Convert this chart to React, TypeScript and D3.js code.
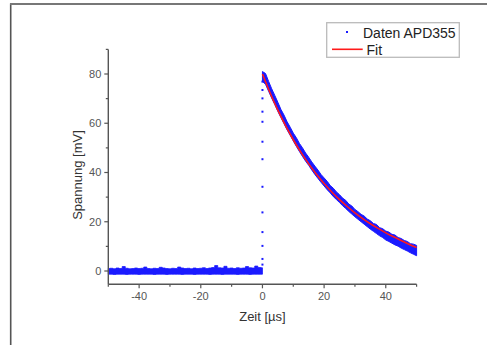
import React from "react";
import * as d3 from "d3";

// ---- data ----
const baseTime = d3.range(-50, 1, 1); // tick positions helper (sample grid)
const baseHigh = [1.0, 1.1, 0.9, 1.2, 1.0, 1.8, 1.1, 0.9, 1.0, 1.2, 1.0, 1.1, 1.6, 1.0, 0.9, 1.1, 1.0, 1.5, 1.2, 1.0, 0.9, 1.1, 1.0, 1.6, 1.2, 1.0, 1.1, 0.9, 1.2, 1.0, 1.1, 1.3, 1.0, 1.2, 1.4, 2.2, 1.3, 1.2, 1.9, 1.1, 1.2, 1.0, 1.3, 1.1, 1.2, 1.8, 1.3, 1.2, 2.0, 1.4, 1.3];
const baseLow = [-1.3, -1.3, -1.4, -1.3, -1.3, -1.3, -1.4, -1.3, -1.3, -1.3, -1.4, -1.3, -1.3, -1.3, -1.3, -1.4, -1.3, -1.3, -1.3, -1.4, -1.3, -1.3, -1.3, -1.3, -1.4, -1.3, -1.3, -1.3, -1.4, -1.3, -1.3, -1.3, -1.3, -1.4, -1.3, -1.3, -1.3, -1.4, -1.3, -1.3, -1.3, -1.3, -1.4, -1.3, -1.3, -1.3, -1.4, -1.3, -1.3, -1.3, -1.3];

const decayTime = d3.range(0, 51, 1);
const decayHigh = [81.0, 80.2, 77.0, 74.0, 71.3, 68.5, 65.6, 63.3, 60.6, 58.4, 56.0, 54.1, 51.8, 50.0, 47.9, 46.2, 44.3, 42.6, 41.0, 39.2, 37.8, 36.4, 34.7, 33.6, 32.1, 31.0, 29.6, 28.7, 27.2, 26.4, 25.0, 24.1, 23.0, 22.3, 21.1, 20.4, 19.3, 18.9, 17.6, 17.2, 16.2, 15.8, 14.9, 14.6, 13.6, 13.2, 12.4, 12.0, 11.1, 10.9, 10.4];
const decayLow = [77.0, 75.8, 73.0, 70.2, 67.6, 64.8, 62.3, 59.8, 57.3, 55.1, 52.8, 50.6, 48.5, 46.5, 44.6, 42.9, 41.0, 39.2, 37.6, 36.0, 34.5, 33.0, 31.7, 30.2, 29.0, 27.8, 26.5, 25.4, 24.2, 23.1, 22.0, 21.0, 20.0, 19.0, 18.0, 17.0, 16.1, 15.2, 14.3, 13.6, 12.6, 12.0, 11.3, 10.6, 10.1, 9.3, 8.7, 8.1, 7.4, 6.8, 6.2];

const spikeValues = [2.6, 4.9, 10.2, 15.8, 23.8, 34.2, 45.4, 52.5, 60.6, 64.7, 70.1, 73.5, 76.9];

const fitTime = [0, 2.5, 5, 7.5, 10, 12.5, 15, 17.5, 20, 22.5, 25, 27.5, 30, 32.5, 35, 37.5, 40, 42.5, 45, 47.5, 50];
const fitValue = [80, 72.3, 65.3, 59.0, 53.3, 48.2, 43.5, 39.3, 35.5, 32.1, 29.0, 26.2, 23.6, 21.3, 19.2, 17.3, 15.5, 13.9, 12.4, 10.9, 9.5];

const xMajor = [-40, -20, 0, 20, 40];
const xMinor = [-50, -30, -10, 10, 30, 50];
const yMajor = [0, 20, 40, 60, 80];
const yMinor = [10, 30, 50, 70, 90];

const W = 487, H = 345;
const BLUE = "#1a1aff";
const RED = "#ff1a1a";
const AXIS = "#555";
const FONT = "Liberation Sans, Arial, sans-serif";

export default function App() {
  const x = d3.scaleLinear().domain([-50, 50]).range([108.3, 416.6]);
  const y = d3.scaleLinear().domain([0, 80]).range([271, 74]);
  const yBottom = 284.3;
  const yTop = y(90);

  const baseArea = d3.area<number>()
    .x((_, i) => x(baseTime[i]))
    .y0((_, i) => y(baseLow[i]))
    .y1((_, i) => y(baseHigh[i]))
    .curve(d3.curveStep);
  const decayArea = d3.area<number>()
    .x((_, i) => x(decayTime[i]))
    .y0((_, i) => y(decayLow[i]))
    .y1((_, i) => y(decayHigh[i]))
    .curve(d3.curveLinear);
  const fitLine = d3.line<number>()
    .x((_, i) => x(fitTime[i]))
    .y((v) => y(v))
    .curve(d3.curveMonotoneX);

  return (
    <svg width={W} height={H} style={{ position: "absolute", left: 0, top: 0, background: "#fff" }}>
      <rect x={0} y={0} width={W} height={H} fill="#fff" />
      {/* frame */}
      <line x1={10.7} y1={3.5} x2={10.7} y2={H} stroke="#555" strokeWidth={1.6} />
      <line x1={10} y1={4} x2={W} y2={4} stroke="#777" strokeWidth={2} />

      {/* data */}
      <path d={baseArea(baseTime) || ""} fill={BLUE} stroke={BLUE} strokeWidth={0.8} />
      <path d={decayArea(decayTime) || ""} fill={BLUE} stroke={BLUE} strokeWidth={1} strokeLinejoin="round" />
      {spikeValues.map((v, i) => (
        <rect key={i} x={x(0) - 1} y={y(v) - 1} width={2} height={2} fill={BLUE} />
      ))}
      <path d={fitLine(fitValue) || ""} fill="none" stroke={RED} strokeWidth={1.6} />

      {/* axes */}
      <line x1={x(-50)} y1={yTop} x2={x(-50)} y2={yBottom} stroke={AXIS} strokeWidth={1.4} />
      <line x1={x(-50)} y1={yBottom} x2={x(50)} y2={yBottom} stroke={AXIS} strokeWidth={1.4} />
      {yMajor.map((v) => (
        <g key={"ym" + v}>
          <line x1={x(-50) - 4} x2={x(-50)} y1={y(v)} y2={y(v)} stroke={AXIS} strokeWidth={1.2} />
          <text x={x(-50) - 7} y={y(v)} dy="0.35em" textAnchor="end" fontFamily={FONT} fontSize={11} fill="#555">{v}</text>
        </g>
      ))}
      {yMinor.map((v) => (
        <line key={"yn" + v} x1={x(-50) - 2.5} x2={x(-50)} y1={y(v)} y2={y(v)} stroke={AXIS} strokeWidth={1.2} />
      ))}
      {xMajor.map((v) => (
        <g key={"xm" + v}>
          <line x1={x(v)} x2={x(v)} y1={yBottom} y2={yBottom + 4} stroke={AXIS} strokeWidth={1.2} />
          <text x={x(v)} y={yBottom + 16} textAnchor="middle" fontFamily={FONT} fontSize={11} fill="#555">{v}</text>
        </g>
      ))}
      {xMinor.map((v) => (
        <line key={"xn" + v} x1={x(v)} x2={x(v)} y1={yBottom} y2={yBottom + 2.5} stroke={AXIS} strokeWidth={1.2} />
      ))}

      {/* axis titles */}
      <text x={x(0)} y={320.5} textAnchor="middle" fontFamily={FONT} fontSize={13} fill="#333">Zeit [µs]</text>
      <text transform="translate(81.5,175) rotate(-90)" textAnchor="middle" fontFamily={FONT} fontSize={13} fill="#333">Spannung [mV]</text>

      {/* legend */}
      <rect x={326.7} y={22.7} width={132.6} height={34.6} fill="#fff" stroke="#bbb" strokeWidth={1.3} />
      <rect x={346} y={31} width={2} height={2} fill={BLUE} />
      <text x={363} y={37.5} fontFamily={FONT} fontSize={14} fill="#222">Daten APD355</text>
      <line x1={332} x2={362.7} y1={49.3} y2={49.3} stroke={RED} strokeWidth={1.6} />
      <text x={366.5} y={54.5} fontFamily={FONT} fontSize={14} fill="#222">Fit</text>
    </svg>
  );
}
